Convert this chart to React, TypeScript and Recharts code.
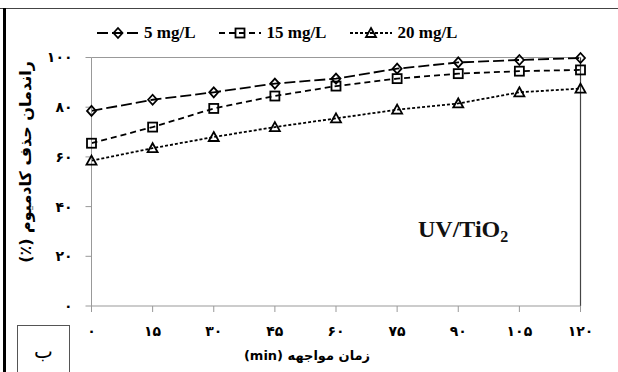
import { LineChart, Line, XAxis, YAxis, ReferenceLine } from "recharts";

const times = [0, 15, 30, 45, 60, 75, 90, 105, 120];
const xTickLabels = ["۰", "۱۵", "۳۰", "۴۵", "۶۰", "۷۵", "۹۰", "۱۰۵", "۱۲۰"];
const yTicks = [0, 20, 40, 60, 80, 100];
const yTickLabels = ["۰", "۲۰", "۴۰", "۶۰", "۸۰", "۱۰۰"];

const conc5 = [78.5, 83, 86, 89.5, 91.5, 95.5, 98, 99, 99.8];
const conc15 = [65.5, 72, 79.5, 84.5, 88.5, 91.5, 93.5, 94.5, 95];
const conc20 = [58.5, 63.5, 68, 72, 75.5, 79, 81.5, 86, 87.5];

const seriesNames = ["5 mg/L", "15 mg/L", "20 mg/L"];
const seriesKeys = ["c5", "c15", "c20"];
const dashes = ["11 4", "6 4", "3 2"];
const shapes = ["diamond", "square", "triangle"];

const data = times.map((t, i) => ({ t, c5: conc5[i], c15: conc15[i], c20: conc20[i] }));

const persian = "'DejaVu Sans', sans-serif";
const serif = "'Liberation Serif', 'Times New Roman', serif";

function marker(shape: string, cx: number, cy: number, key?: string) {
  const common = { key, fill: "none", stroke: "#000", strokeWidth: 1.8 };
  if (shape === "diamond")
    return <path {...common} d={`M${cx},${cy - 5}L${cx + 4.5},${cy}L${cx},${cy + 5}L${cx - 4.5},${cy}Z`} />;
  if (shape === "square") return <rect {...common} x={cx - 4.5} y={cy - 4.5} width={9} height={9} />;
  return <path {...common} d={`M${cx},${cy - 5}L${cx + 5},${cy + 4}L${cx - 5},${cy + 4}Z`} />;
}

const dotFor = (shape: string) => (p: any) => marker(shape, p.cx, p.cy, `${shape}-${p.index}`);

function LegendRow() {
  return (
    <div style={{ position: "absolute", left: 97, top: 23, display: "flex", alignItems: "center", gap: 24 }}>
      {seriesNames.map((n, i) => (
        <div key={n} style={{ display: "flex", alignItems: "center", gap: 5 }}>
          <svg width={42} height={14}>
            <line x1={0} y1={7} x2={42} y2={7} stroke="#000" strokeWidth={1.8} strokeDasharray={dashes[i]} />
            {marker(shapes[i], 21, 7)}
          </svg>
          <span style={{ fontFamily: serif, fontWeight: "bold", fontSize: 17, color: "#000" }}>{n}</span>
        </div>
      ))}
    </div>
  );
}

export default function App() {
  return (
    <div style={{ position: "absolute", left: 0, top: 0, width: 618, height: 372, background: "#fff", overflow: "hidden" }}>
      {/* frame */}
      <div style={{ position: "absolute", left: 0, top: 8, width: 618, height: 0, borderTop: "1.5px solid #444" }} />
      <div style={{ position: "absolute", left: 3, top: 8, width: 3, height: 364, background: "#000" }} />
      <div
        style={{
          position: "absolute", left: 17, top: 325, width: 53, height: 60, border: "1px solid #555",
          boxSizing: "border-box", textAlign: "center", fontFamily: persian, fontSize: 20,
          lineHeight: "50px",
        }}
      >
        ب
      </div>
      <LegendRow />
      <LineChart width={618} height={372} data={data} margin={{ top: 57.5, right: 37.5, left: 0, bottom: 0 }}>
        <XAxis
          dataKey="t"
          type="number"
          domain={[0, 120]}
          ticks={times}
          height={66}
          stroke="#999"
          tickSize={6}
          tickMargin={14}
          tickFormatter={(v: number) => xTickLabels[times.indexOf(v)]}
          tick={{ fill: "#000", fontSize: 14, fontWeight: "bold", fontFamily: persian }}
        />
        <YAxis
          type="number"
          domain={[0, 100]}
          ticks={yTicks}
          width={91.5}
          stroke="#999"
          tickSize={6}
          tickMargin={13}
          tickFormatter={(v: number) => yTickLabels[yTicks.indexOf(v)]}
          tick={{ fill: "#000", fontSize: 14, fontWeight: "bold", fontFamily: persian }}
        />
        <ReferenceLine y={100} stroke="#999" strokeWidth={1} />
        <ReferenceLine x={120} stroke="#444" strokeWidth={1.2} />
        {seriesKeys.map((k, i) => (
          <Line
            key={k}
            dataKey={k}
            name={seriesNames[i]}
            stroke="#000"
            strokeWidth={1.8}
            strokeDasharray={dashes[i]}
            dot={dotFor(shapes[i])}
            activeDot={false}
            isAnimationActive={false}
          />
        ))}
      </LineChart>
      <div
        style={{
          position: "absolute", left: 25, top: 162, transform: "translate(-50%, -50%) rotate(-90deg)",
          whiteSpace: "nowrap", fontFamily: persian, fontSize: 16, fontWeight: "bold", direction: "rtl",
        }}
      >
        راندمان حذف کادمیوم (٪)
      </div>
      <div
        style={{
          position: "absolute", left: 307, top: 355, transform: "translate(-50%, -50%)", whiteSpace: "nowrap",
          fontFamily: persian, fontSize: 13, fontWeight: "bold", direction: "rtl",
        }}
      >
        زمان مواجهه (min)
      </div>
      <div
        style={{
          position: "absolute", left: 418, top: 216, fontFamily: serif, fontWeight: "bold", fontSize: 24,
          color: "#111", whiteSpace: "nowrap",
        }}
      >
        UV/TiO<sub style={{ fontSize: 16, verticalAlign: "-5px" }}>2</sub>
      </div>
    </div>
  );
}
